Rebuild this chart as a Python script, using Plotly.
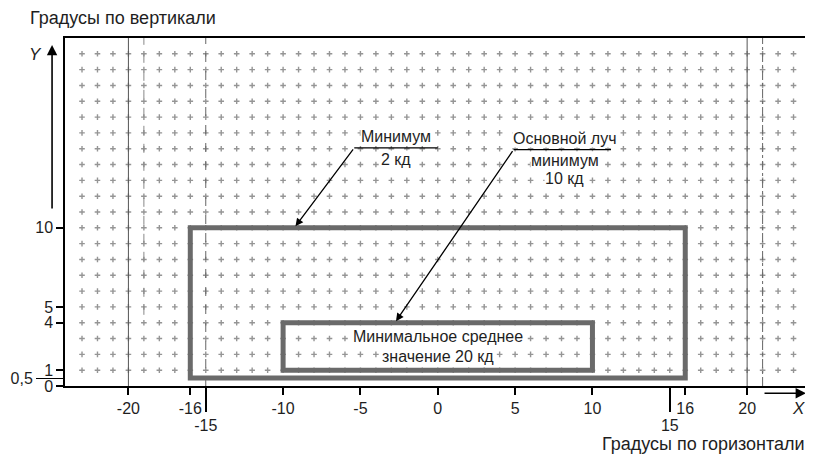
import plotly.graph_objects as go

# ---- data ----
grid_x = list(range(-23, 24))
grid_y = list(range(1, 22))

x_tick_vals = [-20, -16, -10, -5, 0, 5, 10, 16, 20]
x_tick_text = ["-20", "-16", "-10", "-5", "0", "5", "10", "16", "20"]
x_long_ticks = [-15, 15]
x_long_text = ["-15", "15"]

y_tick_vals = [0, 1, 4, 5, 10]
y_tick_text = ["0", "1", "4", "5", "10"]
y_long_ticks = [0.5]
y_long_text = ["0,5"]

outer_box = dict(x0=-16, x1=16, y0=0.5, y1=10)
inner_box = dict(x0=-10, x1=10, y0=1, y1=4)

solid_vlines = [-20, 20]
dashed_vlines = [-15]
dashdot_vlines = [21]

title_y = "Градусы по вертикали"
title_x = "Градусы по горизонтали"

label_min = ["Минимум", "2 кд"]
label_main = ["Основной луч", "минимум", "10 кд"]
label_inner = ["Минимальное среднее", "значение 20 кд"]

FONT = "Liberation Sans, Arial, sans-serif"
GRAY = "#6a6a6a"
TXT = "#1e1e1e"
XR = [-24.1, 24.0]
YR = [0, 22.0]

gx, gy = [], []
for yy in grid_y:
    for xx in grid_x:
        gx.append(xx)
        gy.append(yy)

fig = go.Figure()
fig.add_trace(go.Scatter(
    x=gx, y=gy, mode="markers", hoverinfo="skip",
    marker=dict(symbol="cross-thin", size=4, line=dict(width=1.4, color="#959595")),
    showlegend=False))
# invisible traces to activate the extra tick axes
fig.add_trace(go.Scatter(x=[None], y=[None], xaxis="x2", yaxis="y", showlegend=False,
                         hoverinfo="skip"))
fig.add_trace(go.Scatter(x=[None], y=[None], xaxis="x", yaxis="y2", showlegend=False,
                         hoverinfo="skip"))

shapes = []
for v in solid_vlines:
    shapes.append(dict(type="line", xref="x", yref="y", x0=v, x1=v, y0=0, y1=22,
                       line=dict(color="#555", width=1)))
for v in dashed_vlines:
    shapes.append(dict(type="line", xref="x", yref="y", x0=v, x1=v, y0=0, y1=22,
                       line=dict(color="#666", width=1, dash="dash")))
for v in dashdot_vlines:
    shapes.append(dict(type="line", xref="x", yref="y", x0=v, x1=v, y0=0, y1=22,
                       line=dict(color="#666", width=1, dash="dashdot")))
shapes.append(dict(type="line", xref="x", yref="y", x0=-19, x1=-19, y0=4.5, y1=22,
                   line=dict(color="#888", width=1, dash="dash")))

for b in (outer_box, inner_box):
    shapes.append(dict(type="rect", xref="x", yref="y", fillcolor="rgba(0,0,0,0)",
                       line=dict(color=GRAY, width=5), **b))

# leader underlines
shapes.append(dict(type="line", xref="x", yref="y", x0=-5.4, x1=0.0, y0=15.06, y1=15.06,
                   line=dict(color="black", width=1.2)))
shapes.append(dict(type="line", xref="x", yref="y", x0=4.9, x1=11.2, y0=14.94, y1=14.94,
                   line=dict(color="black", width=1.2)))

ann = []
def txt(x, y, t, size=16, **kw):
    d = dict(x=x, y=y, xref="x", yref="y", text=t, showarrow=False,
             font=dict(family=FONT, size=size, color=TXT))
    d.update(kw)
    ann.append(d)

txt(-2.7, 15.78, label_min[0], bgcolor="white", borderpad=0)
txt(-2.7, 14.33, label_min[1], bgcolor="white", borderpad=0)
txt(8.2, 15.66, label_main[0], bgcolor="white", borderpad=0)
txt(8.2, 14.28, label_main[1], bgcolor="white", borderpad=0)
txt(8.2, 13.1, label_main[2], bgcolor="white", borderpad=0)
txt(0, 3.1, label_inner[0], bgcolor="white", borderpad=0)
txt(0, 1.85, label_inner[1], bgcolor="white", borderpad=0)

# leader arrows
ann.append(dict(x=-9.2, y=10.1, ax=-5.4, ay=15.06, xref="x", yref="y", axref="x", ayref="y",
                text="", showarrow=True, arrowhead=2, arrowsize=1.2, arrowwidth=1.3,
                arrowcolor="black", standoff=0))
ann.append(dict(x=-2.7, y=4.1, ax=4.9, ay=14.94, xref="x", yref="y", axref="x", ayref="y",
                text="", showarrow=True, arrowhead=2, arrowsize=1.2, arrowwidth=1.3,
                arrowcolor="black", standoff=0))

# axis arrows (outside the plot area -> paper coordinates, pixel tails)
ann.append(dict(x=-0.0174, y=0.98, ax=0, ay=165, xref="paper", yref="paper",
                text="", showarrow=True, arrowhead=2,
                arrowsize=1.3, arrowwidth=1.6, arrowcolor="black", standoff=0))
ann.append(dict(x=0.996, y=-0.021, ax=-43, ay=0, xref="paper", yref="paper",
                text="", showarrow=True, arrowhead=2,
                arrowsize=1.3, arrowwidth=1.6, arrowcolor="black", standoff=0))
ann.append(dict(x=-0.039, y=0.952, xref="paper", yref="paper", text="<i>Y</i>",
                xanchor="center", yanchor="middle",
                showarrow=False, font=dict(family=FONT, size=17, color=TXT)))
ann.append(dict(x=0.986, y=-0.066, xref="paper", yref="paper", text="<i>X</i>",
                xanchor="center", yanchor="middle",
                showarrow=False, font=dict(family=FONT, size=17, color=TXT)))

# titles
ann.append(dict(x=-0.0496, y=1.057, xref="paper", yref="paper", text=title_y,
                showarrow=False, xanchor="left", yanchor="middle",
                font=dict(family=FONT, size=18, color=TXT)))
ann.append(dict(x=0.997, y=-0.167, xref="paper", yref="paper", text=title_x,
                showarrow=False, xanchor="right", yanchor="middle",
                font=dict(family=FONT, size=18, color=TXT)))

tickfont = dict(family=FONT, size=16, color=TXT)
fig.update_layout(
    width=805, height=447,
    margin=dict(l=57, r=2, t=30, b=69),
    paper_bgcolor="white", plot_bgcolor="white",
    shapes=shapes, annotations=ann, showlegend=False,
    xaxis=dict(range=XR, showgrid=False, zeroline=False,
               tickvals=x_tick_vals, ticktext=x_tick_text, ticks="outside", ticklen=7,
               tickwidth=1.5, tickcolor="black", showline=True, linecolor="black",
               linewidth=2, mirror=True, tickfont=tickfont),
    xaxis2=dict(range=XR, overlaying="x", anchor="y", side="bottom", showgrid=False,
                zeroline=False, showline=False, tickvals=x_long_ticks, ticktext=x_long_text,
                ticks="outside", ticklen=25, tickwidth=1.5, tickcolor="black",
                tickfont=tickfont),
    yaxis=dict(range=YR, showgrid=False, zeroline=False,
               tickvals=y_tick_vals, ticktext=y_tick_text, ticks="outside", ticklen=7,
               tickwidth=1.5, tickcolor="black", showline=True, linecolor="black",
               linewidth=1.5, mirror=True, tickfont=tickfont),
    yaxis2=dict(range=YR, overlaying="y", anchor="x", side="left", showgrid=False,
                zeroline=False, showline=False, tickvals=y_long_ticks, ticktext=y_long_text,
                ticks="outside", ticklen=28, tickwidth=1.3, tickcolor="black",
                tickfont=tickfont),
)

fig.write_html("out.html")
